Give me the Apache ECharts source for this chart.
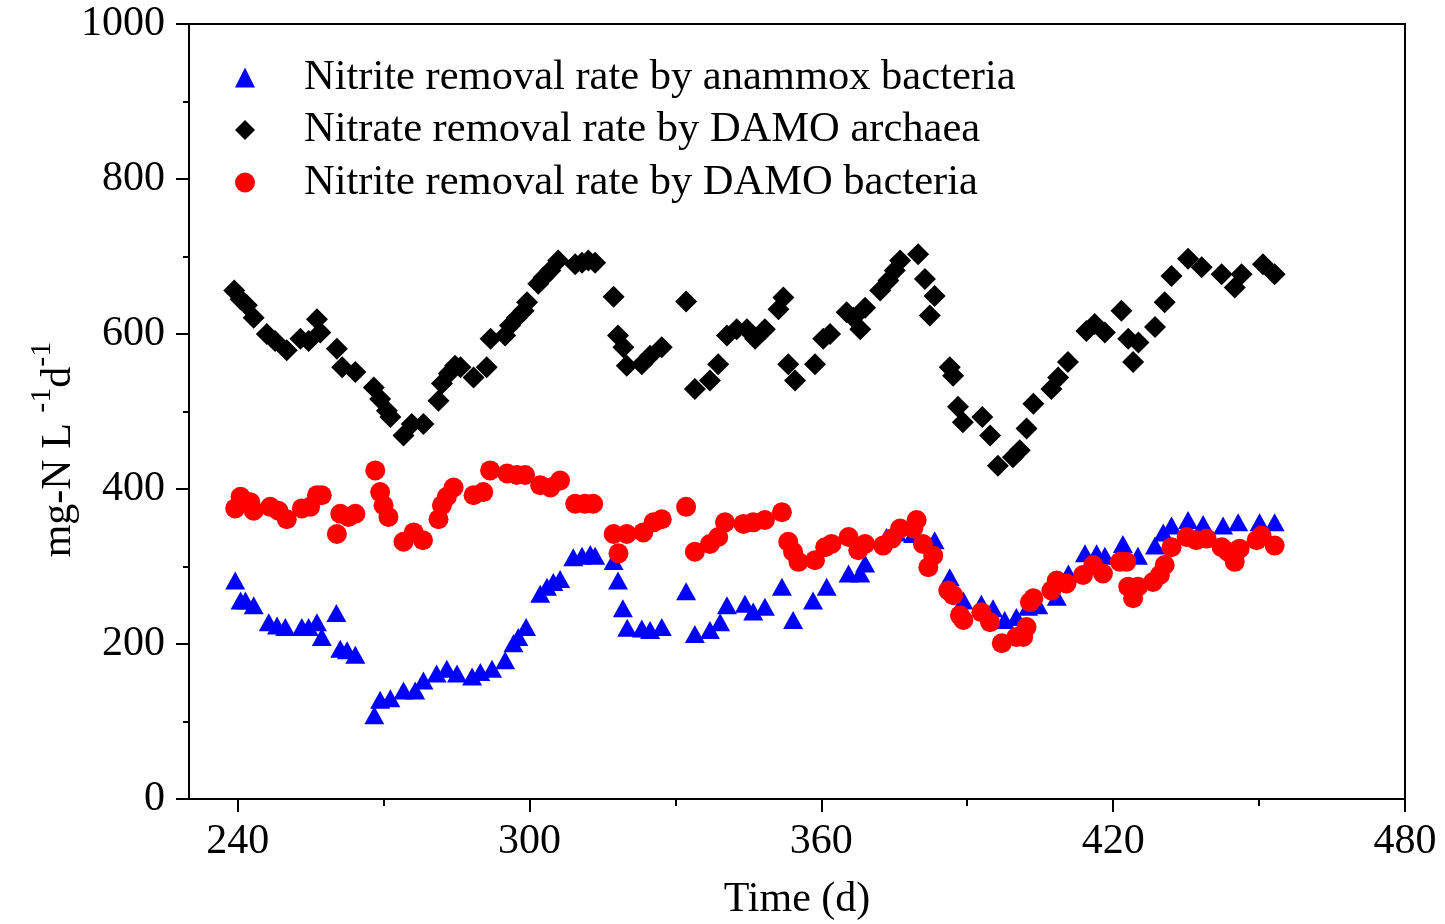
<!DOCTYPE html>
<html><head><meta charset="utf-8">
<script src="https://cdn.jsdelivr.net/npm/echarts@6/dist/echarts.min.js"></script>
<style>html,body{margin:0;padding:0;background:#fff}#c{width:1445px;height:924px}</style>
</head><body><div id="c"></div>
<script>
const FONT = "'Liberation Serif','Times New Roman',serif";
const seriesNames = ['Nitrite removal rate by anammox bacteria','Nitrate removal rate by DAMO archaea','Nitrite removal rate by DAMO bacteria'];
const xMajorTicks = [240,300,360,420,480];
const xMinorTicks = [270,330,390,450];
// [day, rate]
const anammox = [[239.5,282],[240.6,256],[241.6,256],[243.3,250],[246.4,228],[248.1,224],[249.8,222],[253.2,222],[254.6,222],[256.3,228],[257.3,209],[260.3,240],[261.1,194],[262.5,192],[264.2,186],[268.1,108],[269.3,128],[271.4,130],[274.1,140],[276.5,140],[278.2,153],[280.9,162],[283.0,168],[285.1,162],[288.2,158],[289.9,164],[292.3,168],[295.0,179],[296.7,201],[297.7,209],[299.3,222],[302.2,265],[303.6,274],[304.9,280],[306.3,284],[309.0,312],[310.8,314],[312.5,316],[313.5,314],[317.3,307],[318.2,282],[319.2,246],[320.1,221],[323.1,220],[324.8,218],[327.2,222],[332.2,268],[334.0,213],[337.1,218],[339.2,228],[340.6,250],[344.3,252],[346.0,242],[348.4,248],[351.9,274],[354.2,231],[358.3,256],[361.1,274],[365.6,291],[368.0,291],[369.0,304],[373.4,338],[375.5,344],[378.9,342],[383.3,334],[386.4,286],[389.2,256],[392.9,252],[395.3,246],[397.7,231],[400.1,235],[402.5,248],[404.6,250],[408.4,261],[410.8,291],[414.2,317],[416.6,317],[418.3,314],[422.0,329],[425.1,314],[428.6,327],[430.3,344],[432.0,353],[435.4,360],[438.5,355],[442.6,353],[445.7,357],[450.1,357],[453.2,357]];
const archaea = [[239.3,656],[240.6,645],[241.9,637],[243.3,621],[246.0,600],[247.7,591],[250.1,579],[252.9,594],[254.6,591],[256.3,619],[257.0,602],[260.4,581],[261.5,557],[264.2,551],[268.0,531],[269.3,516],[270.7,501],[271.4,493],[274.1,469],[275.8,484],[278.2,484],[281.3,514],[282.0,536],[283.4,549],[284.7,559],[285.8,557],[288.5,544],[291.2,557],[292.0,594],[295.0,598],[296.0,611],[297.4,621],[298.8,630],[299.5,641],[301.8,665],[302.9,673],[304.3,682],[305.9,695],[309.4,690],[310.8,692],[312.1,695],[313.5,692],[317.3,648],[318.2,598],[319.3,583],[320.0,559],[323.1,561],[324.8,572],[327.2,583],[332.2,642],[334.0,529],[337.1,540],[338.8,561],[340.6,598],[342.6,606],[344.7,606],[346.4,594],[348.4,606],[351.2,632],[352.2,647],[353.2,561],[354.6,540],[358.7,561],[360.4,594],[361.8,600],[365.2,628],[366.6,621],[368.0,606],[369.0,634],[372.1,656],[373.8,669],[375.1,682],[376.2,695],[379.9,703],[381.3,671],[383.3,649],[382.3,624],[386.4,557],[387.1,546],[388.1,506],[389.1,486],[393.1,493],[394.7,469],[396.3,430],[399.4,441],[400.8,450],[402.2,478],[403.6,510],[407.3,529],[408.7,544],[410.7,564],[414.5,604],[416.2,613],[418.3,602],[421.7,630],[423.1,594],[425.2,589],[424.1,564],[428.6,609],[430.6,641],[432.0,675],[435.4,697],[438.2,686],[442.3,677],[445.0,660],[446.4,677],[450.8,690],[453.2,677]];
const bacteria = [[239.5,375],[240.6,390],[242.6,383],[243.3,372],[246.7,377],[248.4,372],[250.1,361],[253.2,375],[254.9,377],[256.3,392],[257.3,392],[260.4,342],[261.1,368],[262.8,364],[264.2,368],[268.3,424],[269.3,396],[270.0,379],[271.0,364],[274.1,332],[276.2,344],[278.1,334],[281.3,361],[282.0,379],[283.0,390],[284.4,402],[288.5,392],[290.5,396],[291.9,424],[295.4,420],[297.4,418],[299.1,418],[302.2,405],[304.3,402],[306.3,411],[309.4,381],[311.4,381],[313.1,381],[317.3,342],[318.3,317],[320.0,342],[323.4,344],[325.5,357],[327.2,361],[332.2,377],[334.0,319],[337.1,329],[338.8,338],[340.2,357],[344.0,355],[346.0,357],[348.4,360],[351.9,370],[353.2,332],[354.2,319],[355.3,306],[358.7,308],[360.8,325],[362.1,329],[365.6,338],[367.6,321],[369.0,329],[372.7,327],[374.5,336],[376.2,349],[378.9,349],[379.6,360],[380.9,329],[383.0,314],[382.0,299],[386.1,269],[387.1,263],[388.5,237],[389.2,231],[392.9,241],[394.7,228],[397.1,201],[400.1,209],[401.5,209],[402.2,222],[402.9,254],[403.6,259],[407.3,269],[408.4,282],[410.4,278],[413.8,289],[415.9,302],[417.9,291],[421.4,306],[422.7,306],[423.1,274],[424.1,259],[425.1,274],[428.2,280],[429.6,289],[430.6,302],[432.0,325],[435.1,338],[437.1,334],[439.2,336],[442.3,325],[443.6,319],[445.0,306],[446.0,323],[449.5,334],[450.5,340],[453.2,327]];

const chart = echarts.init(document.getElementById('c'), null, {renderer: 'canvas'});
const tickLine = {color: '#000', width: 2};
const option = {
  animation: false,
  backgroundColor: '#fff',
  grid: {left: 189, right: 40, top: 24, bottom: 125, containLabel: false, outerBoundsMode: 'none', show: true, borderColor: '#000', borderWidth: 2, backgroundColor: 'transparent'},
  legend: {
    orient: 'vertical', left: 235, top: 56, padding: 0, itemWidth: 20, itemHeight: 20, itemGap: 9.5,
    data: seriesNames,
    textStyle: {fontSize: 42.5, fontFamily: FONT, color: '#000', padding: [0, 0, 0, 44]}
  },
  xAxis: [{
    type: 'value', min: 230, max: 480,
    axisLine: {lineStyle: tickLine},
    axisTick: {customValues: xMajorTicks, length: 13, lineStyle: tickLine},
    axisLabel: {customValues: xMajorTicks, fontSize: 42, fontFamily: FONT, color: '#000', margin: 22},
    splitLine: {show: false},
    name: 'Time (d)', nameLocation: 'middle', nameGap: 80, nameMoveOverlap: false,
    nameTextStyle: {fontSize: 42, fontFamily: FONT, color: '#000'}
  }, {
    type: 'value', min: 230, max: 480, position: 'bottom',
    axisLine: {show: false},
    axisTick: {customValues: xMinorTicks, length: 7, lineStyle: tickLine},
    axisLabel: {show: false},
    splitLine: {show: false}
  }],
  yAxis: {
    type: 'value', min: 0, max: 1000, interval: 200,
    axisLine: {show: true, lineStyle: tickLine},
    axisTick: {show: true, length: 13, lineStyle: tickLine},
    minorTick: {show: true, splitNumber: 2, length: 6, lineStyle: tickLine},
    axisLabel: {fontSize: 42, fontFamily: FONT, color: '#000', margin: 24, formatter: function (v) { return String(v); }},
    splitLine: {show: false},
    name: '{a|mg-N L }{s|-1}{a|d}{s|-1}',
    nameLocation: 'middle', nameRotate: 90, nameGap: 98, nameMoveOverlap: false,
    nameTextStyle: {
      fontFamily: FONT, color: '#000', padding: [0, 76, 0, 0],
      rich: {
        a: {fontSize: 42, fontFamily: FONT, color: '#000', lineHeight: 64, verticalAlign: 'middle'},
        s: {fontSize: 30, fontFamily: FONT, color: '#000', lineHeight: 30, verticalAlign: 'top'}
      }
    }
  },
  series: [
    {name: seriesNames[0], type: 'scatter', xAxisIndex: 0, data: anammox, symbol: 'triangle', symbolSize: [20, 18], itemStyle: {color: '#0000ff', opacity: 1}},
    {name: seriesNames[1], type: 'scatter', xAxisIndex: 0, data: archaea, symbol: 'diamond', symbolSize: [22, 22], itemStyle: {color: '#000000', opacity: 1}},
    {name: seriesNames[2], type: 'scatter', xAxisIndex: 0, data: bacteria, symbol: 'circle', symbolSize: 20, itemStyle: {color: '#ff0000', opacity: 1}}
  ]
};
chart.setOption(option);
</script>
</body></html>
